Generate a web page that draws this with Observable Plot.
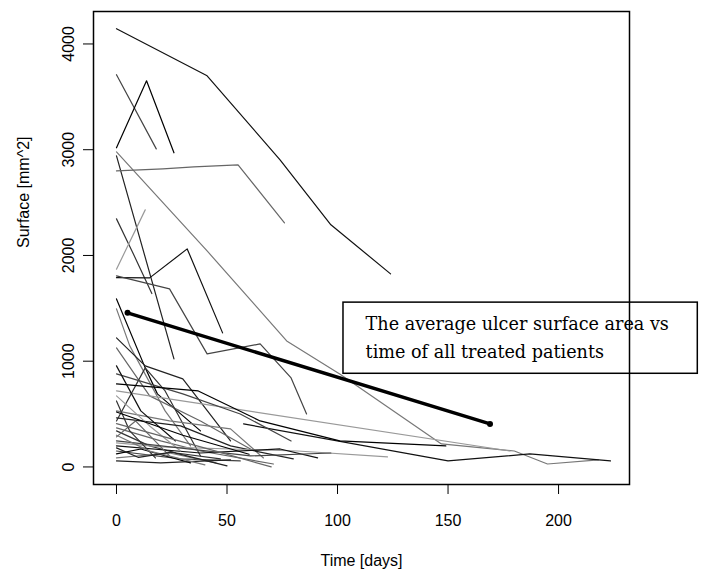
<!DOCTYPE html>
<html><head><meta charset="utf-8">
<script src="https://cdn.jsdelivr.net/npm/d3@7"></script>
<script src="https://cdn.jsdelivr.net/npm/@observablehq/plot@0.6"></script>
<style>body{margin:0;background:#fff}#chart{position:absolute;left:0;top:0}</style>
</head><body><div id="chart"></div>
<script>
// Days since start of treatment, one array per patient
const patientDays = [
  [0,41,74,97,124],
  [0,18],
  [0,13.6,26],
  [0,41,77,101,147,180,195,218],
  [0,26],
  [0,21,35,55,76],
  [0,7,16],
  [0,13],
  [0,15,32,48],
  [0,24,41,65,79,86],
  [0,13,18.5,38],
  [0,6,22,33.5],
  [0,13,30,51.6],
  [0,15,38,60.6],
  [0,13,22,38],
  [0,178],
  [57.5,150,187,223.5],
  [0,30,56,79],
  [0,37,65,101,149],
  [0,24,51.6,66.5],
  [0,29,51.6,80],
  [0,20,38,71],
  [0,15,27,47],
  [0,20,82,122.6],
  [0,38,74,91],
  [0,29,56],
  [0,11,33.5],
  [0,24,45],
  [0,20,51.6],
  [0,8.6,24],
  [0,6,17.6],
  [0,15,29],
  [0,11,26.7],
  [0,60.6,97],
  [0,30,60],
  [0,15,40],
  [0,10,25,50],
  [0,45,70]
];
// Ulcer surface [mm^2], matching patientDays
const patientArea = [
  [4144,3699,2904,2290,1826],
  [3709,3008],
  [3018,3652,2971],
  [2980,2043,1192,880,218,151,28,66],
  [2942,1022],
  [2800,2819,2838,2857,2308],
  [2346,2043,1640],
  [1870,2431],
  [1790,1788,2062,1268],
  [1807,1684,1069,1164,842,501],
  [1589,937,691,341],
  [1495,1145,530,199],
  [1220,956,833,246],
  [1126,672,435,170],
  [435,937,719,104],
  [719,151],
  [407,57,123,57],
  [880,691,501,246],
  [785,719,435,246,199],
  [530,435,360,85],
  [464,388,199,76],
  [369,246,151,28],
  [341,199,132,76],
  [227,189,151,95],
  [199,132,170,85],
  [151,76,57],
  [123,170,38],
  [85,132,38],
  [57,38,66],
  [284,435,104],
  [624,341,85],
  [672,388,151],
  [956,530,246],
  [246,104,132],
  [520,300,120],
  [300,150,20],
  [180,90,140,10],
  [410,150,0]
];
const avgDays = [5, 169];
const avgArea = [1457, 407];
const xTicks = [0, 50, 100, 150, 200];
const yTicks = [0, 1000, 2000, 3000, 4000];
const xTitle = "Time [days]";
const yTitle = "Surface [mm^2]";
const noteLines = ["The average ulcer surface area vs", "time of all treated patients"];
// annotation box, in data units
const noteBox = {x1: 102.7, x2: 263, y1: 881, y2: 1554};
const noteTextX = 112.7;
const noteTextY = [1347, 1082];

const rows = patientDays.flatMap((ds, i) => ds.map((d, j) => ({patient: i, day: d, area: patientArea[i][j]})));
const avgRows = avgDays.map((d, i) => ({day: d, area: avgArea[i]}));
const noteRows = noteLines.map((t, i) => ({text: t, day: noteTextX, area: noteTextY[i]}));

const sans = "Liberation Sans, Arial, sans-serif";
const chart = Plot.plot({
  width: 727, height: 579,
  marginLeft: 93, marginRight: 98, marginTop: 11, marginBottom: 95,
  style: {fontFamily: sans, fontSize: "16px", background: "#fff", color: "#000"},
  x: {domain: [-10.4, 232.1]},
  y: {domain: [-166, 4307]},
  color: {type: "ordinal", range: ["#111", "#444", "#000", "#777", "#222", "#666", "#333", "#999"]},
  marks: [
    Plot.lineY(rows, {x: "day", y: "area", z: "patient", stroke: "patient", strokeWidth: 1.2}),
    Plot.rect([noteBox], {x1: "x1", x2: "x2", y1: "y1", y2: "y2", fill: "white", stroke: "#000", strokeWidth: 1.5}),
    Plot.text(noteRows, {x: "day", y: "area", text: "text", textAnchor: "start", lineAnchor: "middle",
      fontFamily: "DejaVu Serif, serif", fontSize: 17.6, fill: "#000"}),
    Plot.lineY(avgRows, {x: "day", y: "area", stroke: "#000", strokeWidth: 3.5}),
    Plot.dot(avgRows, {x: "day", y: "area", r: 3, fill: "#000"}),
    Plot.frame({stroke: "#000", strokeWidth: 1.5}),
    Plot.axisX({ticks: xTicks, tickSize: 10, tickPadding: 20, fontSize: 16, label: null, tickFormat: d3.format("d")}),
    Plot.axisY({ticks: yTicks, tickSize: 10, tickPadding: 10, tickRotate: -90, fontSize: 16, label: null, tickFormat: d3.format("d")}),
    Plot.text([xTitle], {frameAnchor: "bottom", dy: 81, fontSize: 16}),
    Plot.text([yTitle], {frameAnchor: "left", dx: -70, rotate: -90, fontSize: 16})
  ]
});
document.getElementById("chart").appendChild(chart);
</script>
</body></html>
